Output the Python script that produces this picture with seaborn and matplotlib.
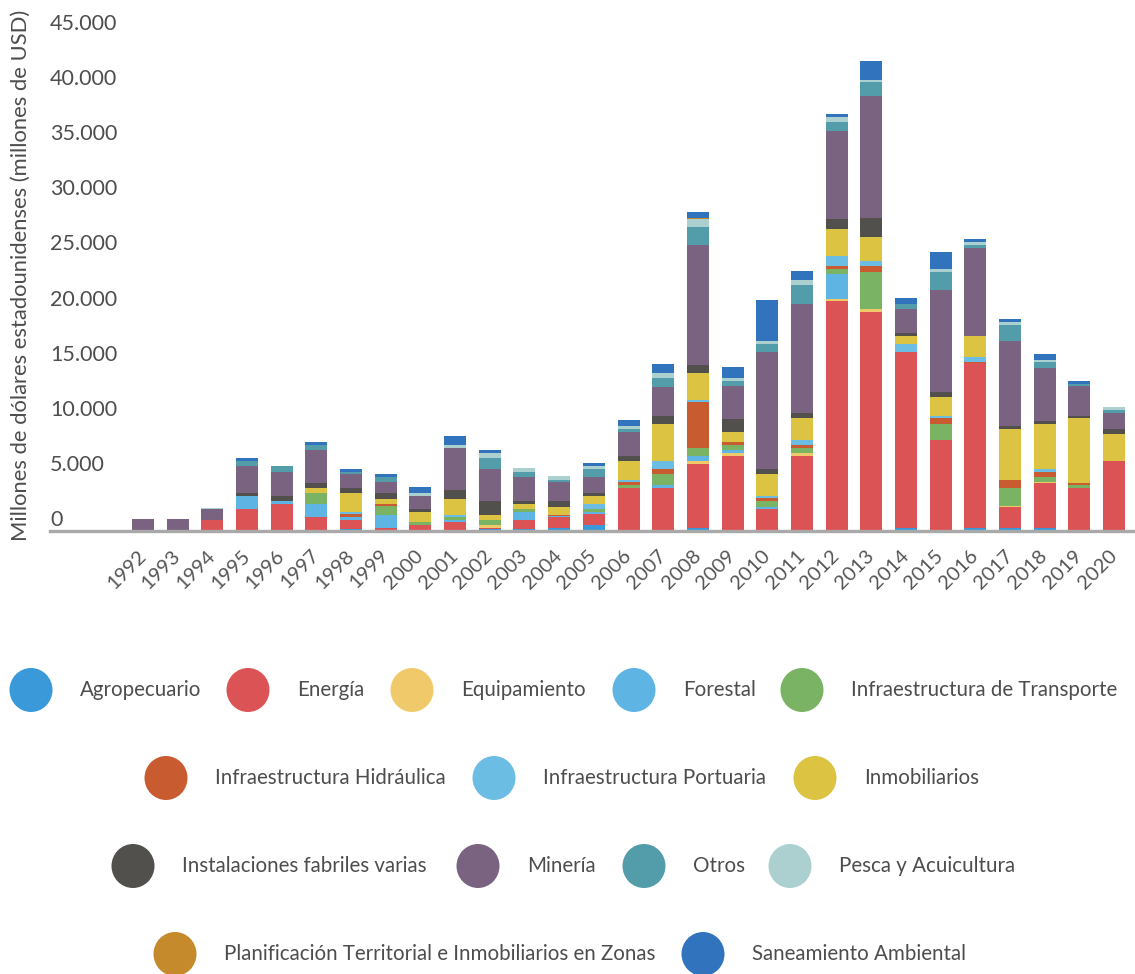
import matplotlib
matplotlib.use("Agg")
import matplotlib.pyplot as plt
import seaborn as sns
import pandas as pd
from matplotlib.patches import Ellipse
from matplotlib.ticker import FuncFormatter

years = list(range(1992, 2021))

categories = [
    "Agropecuario", "Energía", "Equipamiento", "Forestal",
    "Infraestructura de Transporte", "Infraestructura Hidráulica",
    "Infraestructura Portuaria", "Inmobiliarios",
    "Instalaciones fabriles varias", "Minería", "Otros",
    "Pesca y Acuicultura",
    "Planificación Territorial e Inmobiliarios en Zonas",
    "Saneamiento Ambiental",
]
colors = [
    "#3a9ad9", "#dc5356", "#f0ca6a", "#5eb5e4", "#7ab363", "#c95b30",
    "#6cbde3", "#dcc341", "#52504c", "#7a6380", "#539ca9", "#abd0cf",
    "#c48a2c", "#3173bd",
]

# values in millions of USD, 1992..2020
agropecuario = [0, 0, 0, 0, 0, 0, 100, 0, 0, 0, 100, 100, 270, 500, 0, 0, 210, 0, 0, 0, 0, 0, 240, 0, 200, 200, 200, 0, 0]
energia = [0, 0, 950, 1950, 2400, 1220, 850, 250, 500, 770, 150, 850, 950, 990, 3850, 3850, 5810, 6750, 1950, 6750, 20780, 19780, 15920, 8190, 14970, 1930, 4100, 3850, 6290]
equipamiento = [0, 0, 0, 0, 0, 0, 0, 0, 0, 0, 270, 0, 0, 0, 0, 0, 270, 270, 0, 270, 180, 280, 0, 0, 0, 90, 90, 0, 0]
forestal = [0, 40, 0, 1170, 270, 1180, 270, 1150, 0, 180, 0, 720, 90, 180, 0, 270, 460, 270, 180, 0, 2270, 0, 0, 0, 0, 0, 0, 0, 0]
infra_transporte = [0, 0, 0, 0, 0, 1000, 0, 820, 270, 270, 450, 280, 0, 280, 270, 990, 720, 450, 540, 450, 450, 3350, 0, 1450, 0, 1630, 450, 270, 0]
infra_hidraulica = [0, 0, 0, 0, 0, 0, 270, 180, 0, 0, 0, 0, 90, 0, 270, 450, 4170, 270, 270, 270, 270, 540, 0, 550, 90, 720, 460, 180, 0]
infra_portuaria = [0, 0, 0, 0, 0, 0, 180, 0, 0, 180, 0, 0, 0, 450, 180, 720, 180, 0, 180, 450, 910, 460, 730, 180, 450, 0, 270, 0, 0]
inmobiliarios = [0, 0, 0, 0, 0, 450, 1730, 450, 900, 1450, 450, 450, 720, 720, 1720, 3350, 2440, 910, 2000, 2000, 2440, 2170, 720, 1720, 1900, 4620, 4070, 5890, 2450]
instalaciones = [0, 0, 0, 280, 450, 450, 450, 550, 280, 820, 1270, 270, 540, 280, 460, 730, 730, 1180, 450, 450, 910, 1720, 270, 450, 0, 270, 270, 180, 450]
mineria = [1000, 1000, 1000, 2440, 2170, 2990, 1270, 990, 1170, 3800, 2900, 2170, 1720, 1440, 2170, 2620, 10860, 2980, 10590, 9870, 7960, 11040, 2180, 9240, 7970, 7700, 4800, 2710, 1450]
otros = [0, 0, 0, 450, 540, 450, 180, 450, 0, 0, 990, 460, 180, 730, 270, 820, 1630, 460, 730, 1720, 820, 1270, 450, 1630, 270, 1450, 550, 180, 270]
pesca = [0, 0, 80, 0, 0, 0, 0, 0, 280, 270, 450, 360, 360, 270, 270, 450, 730, 270, 270, 450, 450, 180, 0, 270, 270, 270, 180, 0, 270]
planificacion = [0, 0, 0, 0, 0, 0, 0, 0, 0, 0, 0, 0, 0, 0, 0, 0, 90, 0, 0, 0, 0, 0, 0, 0, 0, 0, 0, 0, 0]
saneamiento = [0, 0, 0, 270, 0, 270, 270, 280, 540, 820, 280, 0, 0, 270, 540, 820, 540, 990, 3710, 820, 270, 1720, 540, 1540, 270, 270, 540, 280, 0]

series = [agropecuario, energia, equipamiento, forestal, infra_transporte,
          infra_hidraulica, infra_portuaria, inmobiliarios, instalaciones,
          mineria, otros, pesca, planificacion, saneamiento]

yticks = list(range(0, 45001, 5000))
ylabel = "Millones de dólares estadounidenses (millones de USD)"

rows = []
for cat, vals in zip(categories, series):
    for yr, v in zip(years, vals):
        rows.append({"year": yr, "sector": cat, "value": v})
df = pd.DataFrame(rows)

sns.set_theme(style="white")
plt.rcParams["font.family"] = ["Lato", "DejaVu Sans"]

W, H = 1135, 974
fig = plt.figure(figsize=(W / 100, H / 100), dpi=100)
ax_left, ax_right = 50, 1135
ax_bottom_px = 530.5
ymax = 48000
px_per_unit = 11.044 / 1000
ax_top_px = ax_bottom_px - ymax * px_per_unit
ax = fig.add_axes([ax_left / W, (H - ax_bottom_px) / H,
                   (ax_right - ax_left) / W, (ax_bottom_px - ax_top_px) / H])

palette = dict(zip(categories, colors))
sns.histplot(data=df, x="year", weights="value", hue="sector",
             hue_order=categories[::-1], palette=palette,
             multiple="stack", discrete=True, shrink=0.634,
             linewidth=0, alpha=1, legend=False, ax=ax)

px_year = 34.68
x0 = 1992 - (143 - ax_left) / px_year
x1 = 1992 + (ax_right - 143) / px_year
ax.set_xlim(x0, x1)
ax.set_ylim(0, ymax)

for s in ["left", "top", "right"]:
    ax.spines[s].set_visible(False)
ax.spines["bottom"].set_color("#a9a9a9")
ax.spines["bottom"].set_linewidth(2.4)
ax.spines["bottom"].set_zorder(5)
ax.set_xlabel("")
ax.set_ylabel("")
ax.grid(False)

ax.set_yticks(yticks)
ax.yaxis.set_major_formatter(FuncFormatter(lambda v, p: f"{int(v):,}".replace(",", ".")))
ax.tick_params(axis="y", length=0, pad=0, labelsize=15.5, labelcolor="#4d4d4d")
for t in ax.get_yticklabels():
    t.set_ha("left")
    t.set_va("bottom")

ax.set_xticks(years)
ax.set_xticklabels([str(y) for y in years])
ax.tick_params(axis="x", length=0, pad=16, labelsize=14.5, labelcolor="#555555")
for t in ax.get_xticklabels():
    t.set_rotation(45)
    t.set_ha("right")
    t.set_va("center")
    t.set_rotation_mode("anchor")

fig.text(21 / W, (H - 541) / H, ylabel, rotation=90, ha="center", va="bottom",
         fontsize=15.8, color="#4d4d4d")

# legend layout: (row y px, [(text x px, category index)])
legend_rows = [
    (690, [(80, 0), (297, 1), (461, 2), (683, 3), (851, 4)]),
    (778, [(215, 5), (543, 6), (864, 7)]),
    (866, [(182, 8), (527, 9), (693, 10), (839, 11)]),
    (954, [(224, 12), (752, 13)]),
]
for ypx, items in legend_rows:
    for tx, ci in items:
        cx = tx - 49
        e = Ellipse((cx / W, 1 - ypx / H), 43 / W, 44 / H,
                    transform=fig.transFigure, facecolor=colors[ci],
                    edgecolor="none")
        fig.add_artist(e)
        fig.text(tx / W, 1 - ypx / H, categories[ci], ha="left",
                 va="center", fontsize=14.8, color="#4d4d4d")

fig.savefig("out.png", dpi=100)
